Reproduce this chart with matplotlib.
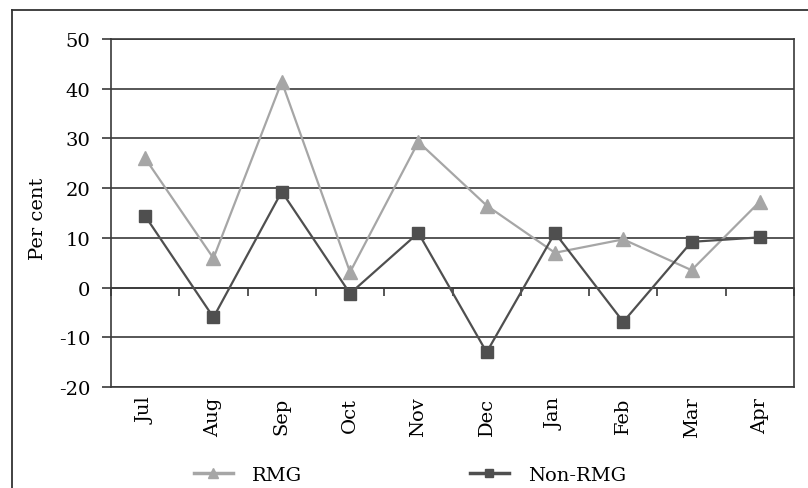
import matplotlib
matplotlib.use("Agg")
import matplotlib.pyplot as plt
from matplotlib.lines import Line2D
import numpy as np

months = ["Jul", "Aug", "Sep", "Oct", "Nov", "Dec", "Jan", "Feb", "Mar", "Apr"]
rmg = [26.0, 5.9, 41.4, 3.1, 29.3, 16.5, 7.0, 9.7, 3.5, 17.3]
non_rmg = [14.4, -6.0, 19.3, -1.2, 11.0, -13.0, 11.0, -6.9, 9.2, 10.1]
yticks = [-20, -10, 0, 10, 20, 30, 40, 50]

plt.rcParams["font.family"] = ["DejaVu Serif"]
plt.rcParams["axes.unicode_minus"] = False

W, H = 808, 489
FS = 14
fig = plt.figure(figsize=(W / 100, H / 100), dpi=100)
ax = fig.add_axes([111 / W, 1 - 388 / H, (794 - 111) / W, (388 - 40) / H])

grid_c = "#3a3a3a"
rmg_c = "#a6a6a6"
non_c = "#4f4f4f"
x = np.arange(len(months))
ax.set_xlim(-0.5, len(months) - 0.5)
ax.set_ylim(-20, 50)
ax.set_yticks(yticks)
ax.set_yticklabels([str(v) for v in yticks], fontsize=FS)
for v in yticks:
    ax.axhline(v, color=grid_c, lw=1.2, zorder=1)

ax.plot(x, rmg, color=rmg_c, lw=1.6, marker="^", ms=10, zorder=3)
ax.plot(x, non_rmg, color=non_c, lw=1.6, marker="s", ms=8, zorder=4)

# x-axis line at zero with boundary ticks
ax.spines["bottom"].set_position(("data", 0))
ax.set_xticks(np.arange(-0.5, len(months), 1.0))
ax.tick_params(axis="x", direction="out", length=6, width=1.2, color=grid_c, labelbottom=False)
ax.tick_params(axis="y", direction="out", length=6.5, width=1.2, color=grid_c, pad=8.5)
for s in ["left", "right", "top", "bottom"]:
    ax.spines[s].set_color(grid_c)
    ax.spines[s].set_linewidth(1.2)

sec = ax.secondary_xaxis(0)
sec.set_xticks(x)
sec.set_xticklabels(months, rotation=90, fontsize=FS)
sec.tick_params(length=0, pad=7)
sec.spines["bottom"].set_color(grid_c)
sec.spines["bottom"].set_linewidth(1.2)

ax.set_ylabel("Per cent", fontsize=FS)
ax.yaxis.set_label_coords(-0.093, 0.485)

h1 = Line2D([], [], color=rmg_c, lw=2.5, marker="^", ms=7, label="RMG")
h2 = Line2D([], [], color=non_c, lw=2.5, marker="s", ms=6, label="Non-RMG")
fig.legend(handles=[h1, h2], loc="center", bbox_to_anchor=(410 / W, 1 - 476 / H),
           ncol=2, frameon=False, fontsize=FS, columnspacing=8.6, handlelength=2.0,
           handletextpad=1.0)

# outer frame
fig.add_artist(Line2D([12 / W, 1], [1 - 11 / H, 1 - 11 / H], color="#333333", lw=1.3,
                      transform=fig.transFigure))
fig.add_artist(Line2D([12 / W, 12 / W], [0, 1 - 11 / H], color="#333333", lw=1.3,
                      transform=fig.transFigure))

fig.savefig("out.png", dpi=100)
